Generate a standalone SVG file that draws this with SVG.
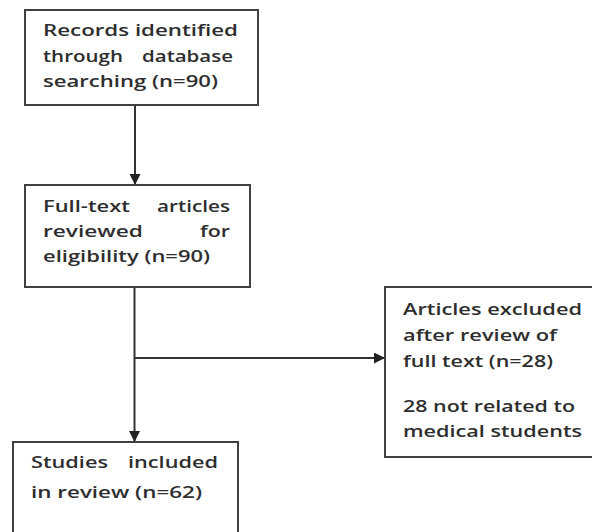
<svg xmlns="http://www.w3.org/2000/svg" width="592" height="532" viewBox="0 0 592 532">
<style>
  .box { fill: #ffffff; stroke: #404040; stroke-width: 2; }
  .t { font-family: "Open Sans", "Liberation Sans", sans-serif; font-size: 17px; font-weight: 600; fill: #2e2e2e; }
  .c { fill: none; stroke: #333333; stroke-width: 2; }
</style>
<defs>
  <marker id="ah" markerUnits="userSpaceOnUse" markerWidth="12" markerHeight="12" refX="11" refY="5.5" orient="auto">
    <path d="M0,0 L11,5.5 L0,11 z" fill="#222222"/>
  </marker>
</defs>
<rect width="592" height="532" fill="#ffffff"/>
<g id="connectors">
  <line class="c" x1="135" y1="105" x2="135" y2="185" marker-end="url(#ah)"/>
  <line class="c" x1="134.5" y1="287" x2="134.5" y2="442" marker-end="url(#ah)"/>
  <line class="c" x1="134.5" y1="358" x2="385" y2="358" marker-end="url(#ah)"/>
</g>
<g id="records">
  <rect class="box" x="25" y="10" width="233" height="95"/>
  <text class="t" x="43" y="36" textLength="195" lengthAdjust="spacingAndGlyphs">Records identified</text>
  <text class="t" x="43" y="62" textLength="80" lengthAdjust="spacingAndGlyphs">through</text>
  <text class="t" x="142" y="62" textLength="91" lengthAdjust="spacingAndGlyphs">database</text>
  <text class="t" x="43" y="87" textLength="175" lengthAdjust="spacingAndGlyphs">searching (n=90)</text>
</g>
<g id="fulltext">
  <rect class="box" x="25" y="185" width="225" height="102"/>
  <text class="t" x="43" y="212" textLength="87" lengthAdjust="spacingAndGlyphs">Full-text</text>
  <text class="t" x="157" y="212" textLength="73" lengthAdjust="spacingAndGlyphs">articles</text>
  <text class="t" x="43" y="237" textLength="100" lengthAdjust="spacingAndGlyphs">reviewed</text>
  <text class="t" x="200" y="237" textLength="30" lengthAdjust="spacingAndGlyphs">for</text>
  <text class="t" x="43" y="262" textLength="167" lengthAdjust="spacingAndGlyphs">eligibility (n=90)</text>
</g>
<g id="excluded">
  <rect class="box" x="385" y="287" width="215" height="170"/>
  <text class="t" x="403" y="315" textLength="179" lengthAdjust="spacingAndGlyphs">Articles excluded</text>
  <text class="t" x="403" y="341" textLength="154" lengthAdjust="spacingAndGlyphs">after review of</text>
  <text class="t" x="403" y="367" textLength="150" lengthAdjust="spacingAndGlyphs">full text (n=28)</text>
  <text class="t" x="403" y="412" textLength="172" lengthAdjust="spacingAndGlyphs">28 not related to</text>
  <text class="t" x="403" y="437" textLength="179" lengthAdjust="spacingAndGlyphs">medical students</text>
</g>
<g id="included">
  <rect class="box" x="13" y="442" width="225" height="100"/>
  <text class="t" x="31" y="468" textLength="77" lengthAdjust="spacingAndGlyphs">Studies</text>
  <text class="t" x="128" y="468" textLength="90" lengthAdjust="spacingAndGlyphs">included</text>
  <text class="t" x="31" y="498" textLength="171" lengthAdjust="spacingAndGlyphs">in review (n=62)</text>
</g>
</svg>
